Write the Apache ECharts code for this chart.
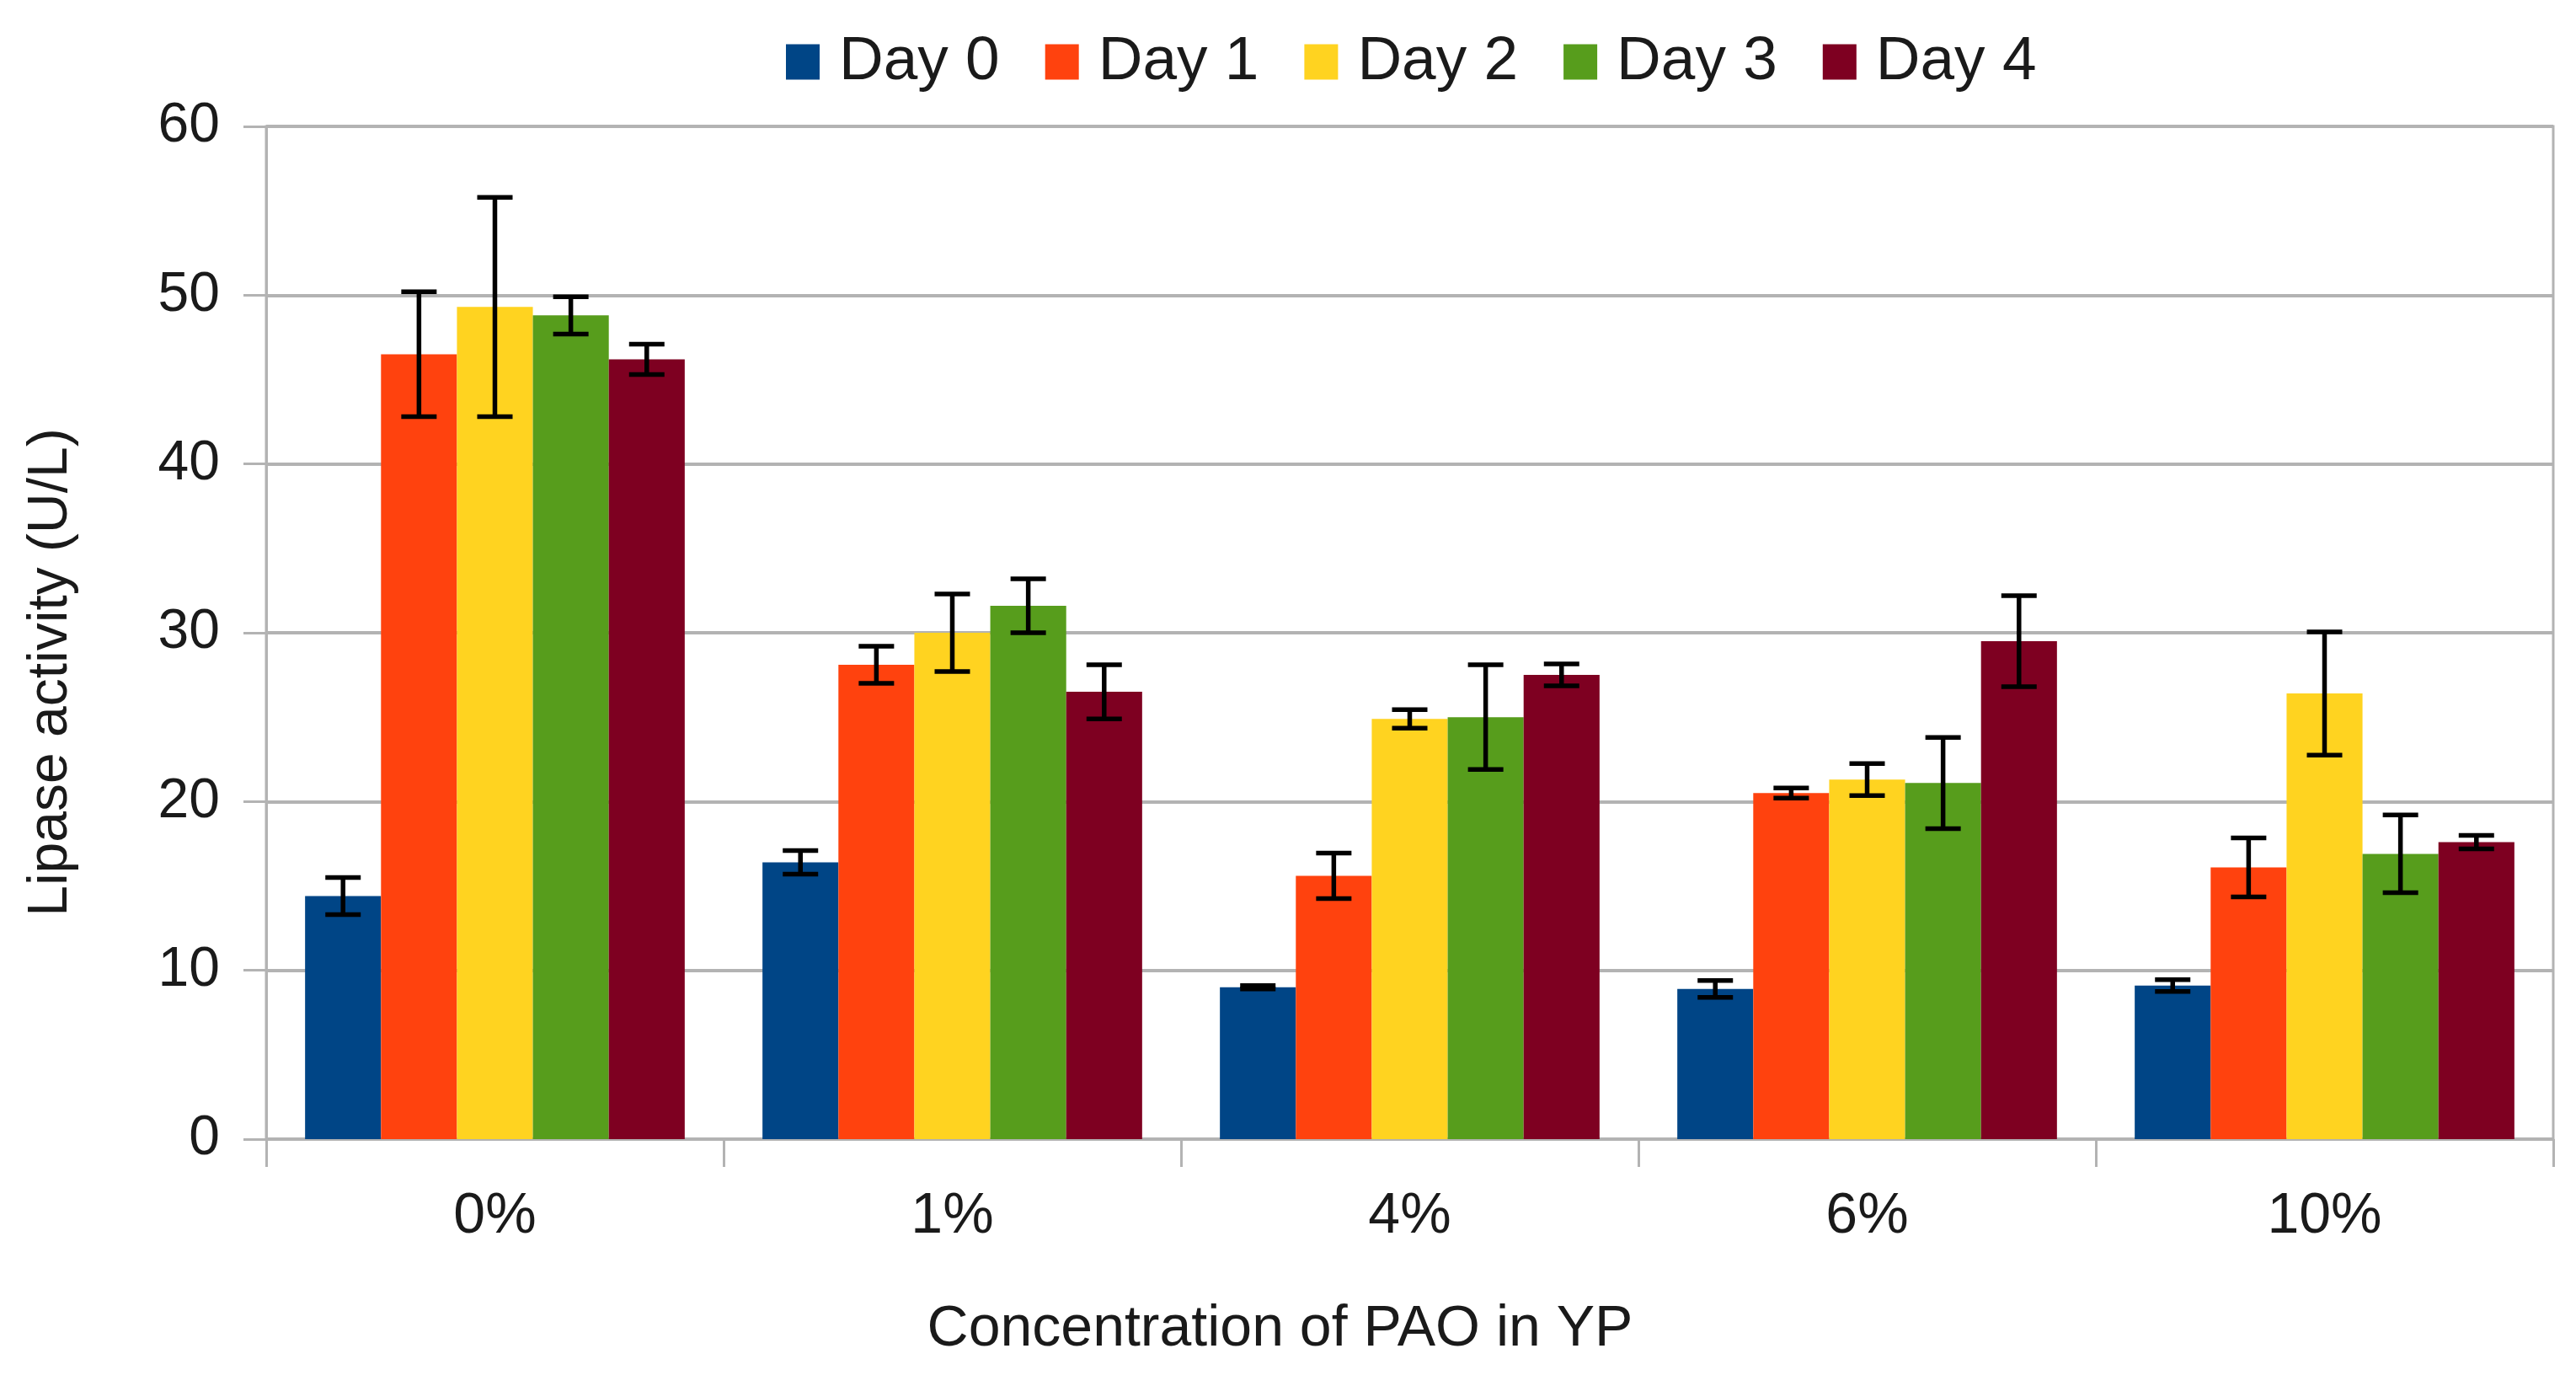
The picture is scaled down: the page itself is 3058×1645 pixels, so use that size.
<!DOCTYPE html>
<html>
<head>
<meta charset="utf-8">
<script src="https://cdn.jsdelivr.net/npm/echarts@6/dist/echarts.min.js"></script>
<style>
html,body{margin:0;padding:0;background:#fff;}
#chart{width:3058px;height:1645px;}
</style>
</head>
<body>
<div id="chart"></div>
<script>
const categories = ['0%', '1%', '4%', '6%', '10%'];
const seriesNames = ['Day 0', 'Day 1', 'Day 2', 'Day 3', 'Day 4'];
const day0 = [14.4, 16.4, 9.0, 8.9, 9.1];
const day1 = [46.5, 28.1, 15.6, 20.5, 16.1];
const day2 = [49.3, 30.0, 24.9, 21.3, 26.4];
const day3 = [48.8, 31.6, 25.0, 21.1, 16.9];
const day4 = [46.2, 26.5, 27.5, 29.5, 17.6];
const err0 = [1.1, 0.7, 0.1, 0.5, 0.35];
const err1 = [3.7, 1.1, 1.35, 0.3, 1.75];
const err2 = [6.5, 2.3, 0.55, 0.95, 3.65];
const err3 = [1.1, 1.6, 3.1, 2.7, 2.3];
const err4 = [0.9, 1.6, 0.65, 2.7, 0.4];
const colors = ['#004586', '#ff420e', '#ffd320', '#579d1c', '#7e0021'];
const yTicks = [0, 10, 20, 30, 40, 50, 60];

const values = [day0, day1, day2, day3, day4];
const errors = [err0, err1, err2, err3, err4];
const FONT = 'Liberation Sans';
const CAT_GAP = 0.17;

const barSeries = values.map((vals, i) => ({
  name: seriesNames[i],
  type: 'bar',
  data: vals,
  barGap: '0%',
  barCategoryGap: '17%',
  itemStyle: { color: colors[i] },
  z: 2
}));

const errSeries = values.map((vals, i) => ({
  name: seriesNames[i] + ' error',
  type: 'custom',
  z: 5,
  data: vals.map((v, j) => [j, v, errors[i][j]]),
  encode: { x: 0, y: 1 },
  renderItem: function (params, api) {
    const c = api.value(0), m = api.value(1), e = api.value(2);
    const xC = api.coord([c, 0])[0];
    const band = api.size([1, 0])[0];
    const bw = band * (1 - CAT_GAP) / 5;
    const x = xC + (i - 2) * bw;
    const yT = api.coord([c, m + e])[1];
    const yB = api.coord([c, m - e])[1];
    const cap = 21;
    const st = { stroke: '#000', lineWidth: 5.5 };
    return {
      type: 'group',
      children: [
        { type: 'line', shape: { x1: x, y1: yT, x2: x, y2: yB }, style: st },
        { type: 'line', shape: { x1: x - cap, y1: yT, x2: x + cap, y2: yT }, style: st },
        { type: 'line', shape: { x1: x - cap, y1: yB, x2: x + cap, y2: yB }, style: st }
      ]
    };
  }
}));

const chart = echarts.init(document.getElementById('chart'));
chart.setOption({
  backgroundColor: '#fff',
  animation: false,
  textStyle: { fontFamily: FONT },
  legend: {
    data: seriesNames,
    top: 32,
    left: 928,
    itemWidth: 40,
    itemHeight: 42,
    itemGap: 54,
    icon: 'rect',
    textStyle: { fontFamily: FONT, fontSize: 73, color: '#1a1a1a', padding: [0, 0, 0, 18] }
  },
  grid: {
    left: 316, right: 27, top: 150, bottom: 293,
    show: true, borderColor: '#b3b3b3', borderWidth: 3, backgroundColor: 'transparent'
  },
  xAxis: {
    type: 'category',
    data: categories,
    name: 'Concentration of PAO in YP',
    nameLocation: 'middle',
    nameGap: 192,
    nameTextStyle: { fontFamily: FONT, fontSize: 68, color: '#1a1a1a', padding: [0, 308, 0, 0] },
    axisLine: { lineStyle: { color: '#b3b3b3', width: 3 } },
    axisTick: { show: true, length: 33, lineStyle: { color: '#b3b3b3', width: 3 } },
    axisLabel: { fontFamily: FONT, fontSize: 68, color: '#1a1a1a', margin: 58 },
    splitLine: { show: false }
  },
  yAxis: {
    type: 'value',
    min: 0, max: 60, interval: 10,
    name: 'Lipase activity (U/L)',
    nameLocation: 'middle',
    nameGap: 222,
    nameRotate: 90,
    nameTextStyle: { fontFamily: FONT, fontSize: 66, color: '#1a1a1a', padding: [0, 94, 0, 0] },
    axisLine: { show: true, lineStyle: { color: '#b3b3b3', width: 3 } },
    axisTick: { show: true, length: 27, lineStyle: { color: '#b3b3b3', width: 3 } },
    axisLabel: {
      fontFamily: FONT, fontSize: 66, color: '#1a1a1a', margin: 55,
      formatter: v => (yTicks.indexOf(v) >= 0 ? String(v) : '')
    },
    splitLine: { show: true, lineStyle: { color: '#b3b3b3', width: 4 } }
  },
  series: barSeries.concat(errSeries)
});
</script>
</body>
</html>
